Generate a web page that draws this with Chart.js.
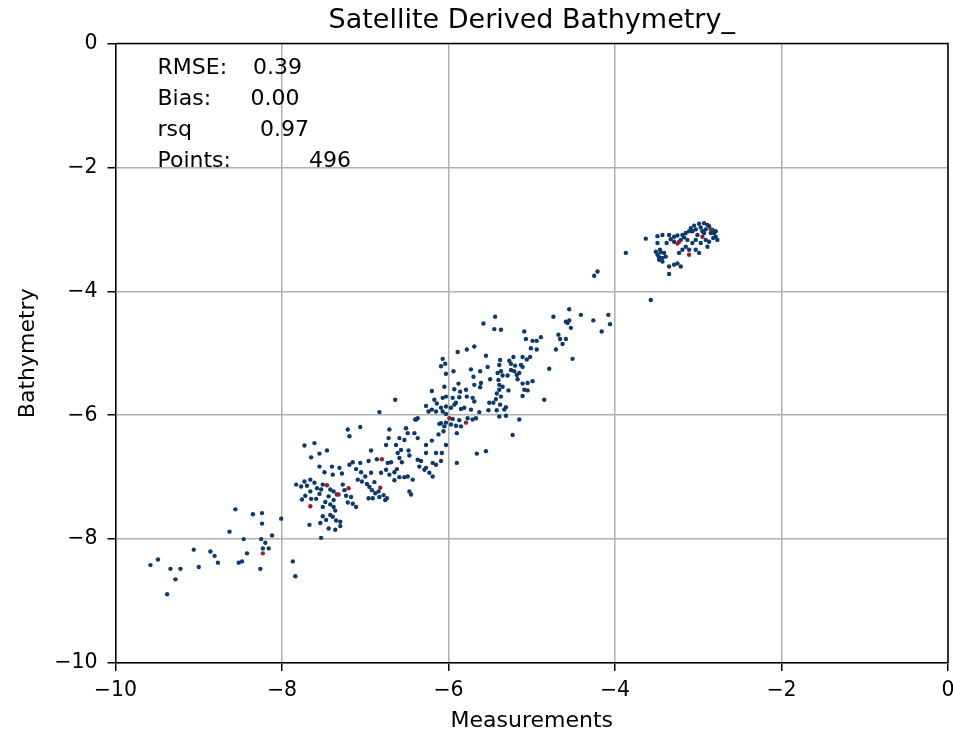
<!DOCTYPE html>
<html>
<head>
<meta charset="utf-8">
<title>Satellite Derived Bathymetry_</title>
<script src="https://cdn.jsdelivr.net/npm/chart.js@4.4.1/dist/chart.umd.min.js"></script>
<style>
  html, body { margin: 0; padding: 0; background: #fff; }
  #wrap { width: 953px; height: 734px; }
</style>
</head>
<body>
<div id="wrap"><canvas id="mycanvas" width="953" height="734"></canvas></div>
<script>
var deepPts = [
	[-8.56,-7.52],[-8.35,-7.60],[-8.24,-7.58],[-8.24,-7.75],[-8.01,-7.67],[-8.63,-7.88],
	[-8.46,-8.00],[-8.25,-8.00],[-8.20,-8.06],[-8.12,-7.94],[-8.23,-8.15],[-8.16,-8.15],
	[-8.42,-8.23],[-8.48,-8.36],[-8.52,-8.38],[-8.77,-8.38],[-8.86,-8.20],[-8.81,-8.27],
	[-9.06,-8.17],[-9.00,-8.45],[-9.22,-8.48],[-9.34,-8.48],[-9.28,-8.65],[-9.38,-8.89],
	[-9.49,-8.33],[-9.58,-8.42],[-8.26,-8.48],[-7.87,-8.36],[-7.84,-8.60]
];
var bandPts = [
	[-7.21,-6.23],[-7.06,-6.19],[-7.19,-6.34],[-6.71,-6.23],[-6.72,-6.37],[-6.51,-6.21],
	[-6.49,-6.29],[-6.41,-6.29],[-6.37,-6.37],[-6.40,-6.07],[-6.59,-6.37],[-6.53,-6.40],
	[-6.63,-6.48],[-6.75,-6.48],[-6.11,-6.14],[-6.06,-6.26],[-6.12,-6.31],[-6.03,-6.48],
	[-6.20,-6.41],[-6.27,-6.48],[-7.73,-6.49],[-7.61,-6.45],[-7.65,-6.68],[-7.55,-6.62],
	[-7.46,-6.57],[-6.93,-6.57],[-6.86,-6.71],[-6.96,-6.74],[-7.15,-6.76],[-7.19,-6.80],
	[-7.06,-6.77],[-6.73,-6.77],[-6.69,-6.76],[-6.61,-6.61],[-6.57,-6.56],[-6.59,-6.69],
	[-6.56,-6.76],[-6.48,-6.57],[-6.47,-6.65],[-6.37,-6.72],[-6.33,-6.74],[-6.27,-6.61],
	[-6.35,-6.83],[-6.15,-6.61],[-6.08,-6.61],[-6.09,-6.74],[-6.15,-6.80],[-6.19,-6.77],
	[-6.27,-6.85],[-6.29,-6.88],[-6.23,-6.93],[-6.19,-6.99],[-7.55,-6.83],[-7.49,-6.92],
	[-7.40,-6.83],[-7.39,-6.96],[-7.31,-6.85],[-7.28,-6.94],[-7.11,-6.87],[-7.05,-6.92],
	[-7.09,-7.04],[-7.04,-7.07],[-7.00,-6.99],[-6.93,-6.93],[-6.89,-7.08],[-6.81,-6.93],
	[-6.75,-6.88],[-6.71,-6.96],[-6.65,-6.92],[-6.62,-6.87],[-6.65,-7.05],[-6.59,-7.00],
	[-6.53,-7.00],[-6.49,-6.99],[-6.43,-7.04],[-7.73,-7.07],[-7.70,-7.14],[-7.66,-7.04],
	[-7.61,-7.09],[-7.58,-7.18],[-7.53,-7.20],[-7.51,-7.12],[-7.55,-7.27],[-7.66,-7.23],
	[-7.72,-7.30],[-7.76,-7.36],[-7.65,-7.35],[-7.59,-7.35],[-7.42,-7.20],[-7.38,-7.23],
	[-7.44,-7.31],[-7.38,-7.37],[-7.34,-7.28],[-7.27,-7.12],[-7.25,-7.21],[-7.23,-7.30],
	[-7.17,-7.32],[-7.21,-7.41],[-7.15,-7.43],[-7.11,-7.48],[-6.98,-7.11],[-6.95,-7.16],
	[-6.92,-7.21],[-6.88,-7.26],[-6.84,-7.23],[-6.78,-7.29],[-6.74,-7.34],[-6.83,-7.32],
	[-6.96,-7.34],[-6.91,-7.34],[-6.76,-7.37],[-6.47,-7.23],[-6.45,-7.28],[-7.51,-7.48],
	[-7.48,-7.40],[-7.42,-7.44],[-7.38,-7.48],[-7.36,-7.54],[-7.51,-7.63],[-7.47,-7.69],
	[-7.42,-7.61],[-7.39,-7.64],[-7.35,-7.70],[-7.30,-7.72],[-7.67,-7.77],[-7.54,-7.74],
	[-7.44,-7.83],[-7.36,-7.85],[-7.30,-7.79],[-7.53,-7.98],[-7.83,-7.12],[-7.77,-7.15]
];
var midPts = [
	[-6.20,-5.61],[-6.17,-5.75],[-6.14,-5.81],[-6.64,-5.75],[-6.83,-5.95],[-6.27,-5.85],
	[-6.24,-5.94],[-6.20,-5.91],[-6.15,-5.94],[-6.37,-6.05],[-6.39,-6.07],[-5.23,-6.32],
	[-5.66,-6.62],[-5.55,-6.58],[-5.90,-6.77],[-5.90,-6.29]
];
var upperPts = [
	[-4.55,-4.29],[-4.74,-4.41],[-4.41,-4.38],[-4.59,-4.49],[-4.57,-4.51],[-4.55,-4.47],
	[-4.53,-4.59],[-4.26,-4.47],[-4.08,-4.38],[-4.06,-4.53],[-4.16,-4.65],[-5.44,-4.41],
	[-5.58,-4.52],[-5.45,-4.61],[-5.37,-4.62],[-5.09,-4.65],[-5.07,-4.77],[-4.99,-4.80],
	[-4.94,-4.80],[-4.89,-4.74],[-4.68,-4.70],[-4.66,-4.77],[-4.59,-4.77],[-4.63,-4.85],
	[-4.71,-4.94],[-4.51,-5.09],[-5.01,-4.92],[-4.94,-4.94],[-5.89,-4.98],[-5.78,-4.94],
	[-5.69,-4.89],[-5.55,-5.04],[-5.11,-5.06],[-5.06,-5.10],[-5.02,-5.06],[-5.22,-5.06],
	[-5.27,-5.12],[-5.25,-5.17],[-5.20,-5.20],[-5.38,-5.11],[-5.39,-5.19],[-5.13,-5.19],
	[-5.11,-5.22],[-4.79,-5.25],[-5.53,-5.22],[-5.62,-5.29],[-5.73,-5.26],[-5.94,-5.29],
	[-6.03,-5.33],[-6.07,-5.09],[-6.04,-5.17],[-6.09,-5.21],[-5.37,-5.29],[-5.41,-5.32],
	[-5.35,-5.36],[-5.40,-5.43],[-5.29,-5.36],[-5.25,-5.27],[-5.21,-5.29],[-5.18,-5.35],
	[-5.15,-5.32],[-5.17,-5.42],[-5.70,-5.38],[-5.69,-5.51],[-5.61,-5.48],[-5.62,-5.55],
	[-5.50,-5.42],[-5.88,-5.49],[-5.93,-5.58],[-5.86,-5.62],[-5.79,-5.59],[-5.39,-5.51],
	[-5.35,-5.54],[-5.39,-5.59],[-5.28,-5.60],[-5.11,-5.49],[-5.05,-5.48],[-4.99,-5.45],
	[-5.09,-5.59],[-5.05,-5.60],[-5.11,-5.69],[-6.05,-5.54],[-6.03,-5.70],[-6.07,-5.72],
	[-5.95,-5.72],[-5.91,-5.80],[-5.87,-5.71],[-5.78,-5.70],[-5.71,-5.72],[-5.69,-5.78],
	[-5.51,-5.80],[-5.46,-5.80],[-5.42,-5.65],[-5.43,-5.74],[-5.37,-5.70],[-5.38,-5.83],
	[-5.31,-5.87],[-5.33,-5.91],[-4.85,-5.75],[-6.03,-5.86],[-5.97,-5.88],[-5.93,-5.83],
	[-5.85,-5.90],[-5.81,-5.88],[-5.73,-5.91],[-5.63,-5.95],[-5.52,-5.92],[-5.42,-5.92],
	[-5.39,-6.02],[-5.31,-6.01],[-6.09,-5.88],[-6.07,-5.94],[-6.03,-5.98],[-5.15,-6.07],
	[-5.95,-6.06],[-5.77,-6.05],[-5.87,-6.08],[-5.71,-6.07],[-5.67,-6.05],[-6.03,-6.12],
	[-5.97,-6.15],[-5.91,-6.17],[-5.85,-6.18],[-6.09,-6.13],[-6.05,-6.18]
];
var shallowPts = [
	[-4.25,-3.75],[-4.21,-3.68],[-3.87,-3.38],[-3.57,-4.14],[-3.63,-3.15],
	[-3.49,-3.11],[-3.43,-3.09],[-3.35,-3.09],[-3.38,-3.22],[-3.49,-3.22],[-3.46,-3.33],
	[-3.49,-3.41],[-3.47,-3.49],[-3.43,-3.46],[-3.41,-3.38],[-3.45,-3.37],[-3.39,-3.44],
	[-3.43,-3.52],[-3.51,-3.36],[-3.47,-3.45],[-3.33,-3.16],[-3.29,-3.12],[-3.25,-3.10],
	[-3.19,-3.09],[-3.15,-3.06],[-3.11,-3.03],[-3.09,-2.98],[-3.05,-2.94],[-2.99,-2.91],
	[-2.93,-2.90],[-2.89,-2.93],[-2.87,-2.95],[-2.83,-3.01],[-2.81,-3.06],[-2.79,-3.12],
	[-2.77,-3.17],[-2.91,-3.17],[-2.97,-3.22],[-2.89,-3.28],[-3.03,-3.17],[-3.07,-3.22],
	[-3.13,-3.17],[-3.15,-3.28],[-3.11,-3.33],[-3.03,-3.33],[-2.99,-3.38],[-3.19,-3.33],
	[-3.23,-3.38],[-3.25,-3.55],[-3.21,-3.60],[-3.29,-3.57],[-3.35,-3.60],[-3.35,-3.72],
	[-3.07,-3.03],[-3.03,-3.00],[-2.97,-2.97],[-2.91,-3.00],[-2.93,-3.06],[-3.01,-3.09],
	[-2.87,-3.20],[-2.82,-3.14],[-3.17,-3.13],[-3.21,-3.17],[-3.29,-3.20],[-2.85,-3.06],
	[-2.79,-3.03],[-2.95,-3.03]
];
var redPts = [
	[-8.23,-8.23],[-6.80,-6.71],[-7.46,-7.13],[-7.32,-7.28],[-7.20,-7.18],[-6.82,-7.17],
	[-7.66,-7.47],[-5.99,-6.05],[-5.79,-6.12],[-3.23,-3.20],[-3.25,-3.23],[-2.85,-3.00],
	[-2.95,-3.12],[-3.11,-3.41]
];

var xTicks = [-10, -8, -6, -4, -2, 0];
var yTicks = [-10, -8, -6, -4, -2, 0];
var statNames = ['RMSE:', 'Bias:', 'rsq', 'Points:'];
var statValues = ['0.39', '0.00', '0.97', '496'];
var chartTitle = 'Satellite Derived Bathymetry_';

var font = 'DejaVu Sans';

function toXY(list) {
	var out = [];
	for (var i in list) out.push({x: list[i][0], y: list[i][1]});
	return out;
}
var bluePts = toXY(deepPts.concat(bandPts, midPts, upperPts, shallowPts));

function minus(v) { return String(v).replace('-', '\u2212'); }

var extras = {
	id: 'extras',
	afterDatasetsDraw: function(chart) {
		var a = chart.chartArea, ctx = chart.ctx;
		ctx.save();
		ctx.strokeStyle = '#000';
		ctx.lineWidth = 1.5;
		ctx.beginPath();
		ctx.moveTo(a.left, a.top);
		ctx.lineTo(a.right, a.top);
		ctx.lineTo(a.right, a.bottom);
		ctx.stroke();

		ctx.fillStyle = '#000';
		ctx.textBaseline = 'alphabetic';
		ctx.textAlign = 'center';
		ctx.font = '27px "' + font + '"';
		ctx.fillText(chartTitle, (a.left + a.right) / 2, 27.5);

		ctx.textAlign = 'left';
		ctx.font = '22px "' + font + '"';
		var valX = [253, 250.5, 260, 309];
		for (var i = 0; i < statNames.length; i++) {
			var y = a.top + 30 + i * 31.1;
			ctx.fillText(statNames[i], a.left + 42, y);
			ctx.fillText(statValues[i], valX[i], y);
		}
		ctx.restore();
	}
};

var ctx = document.getElementById('mycanvas');
var scatter = new Chart(ctx, {
	type: 'scatter',
	data: {
		datasets: [
			{
				label: 'flagged',
				data: toXY(redPts),
				backgroundColor: '#9b1b30',
				pointRadius: 2.2,
				pointBorderWidth: 0
			},
			{
				label: 'points',
				data: bluePts,
				backgroundColor: '#0d3a6c',
				pointRadius: 2.2,
				pointBorderWidth: 0
			}
		]
	},
	options: {
		responsive: false,
		animation: false,
		devicePixelRatio: 1,
		events: [],
		layout: { padding: { top: 43.5, right: 5, left: 0, bottom: 0 } },
		plugins: {
			legend: { display: false },
			tooltip: { enabled: false },
			title: { display: false }
		},
		scales: {
			x: {
				type: 'linear', min: -10, max: 0,
				afterBuildTicks: function(s) { s.ticks = xTicks.map(function(v) { return {value: v}; }); },
				afterFit: function(s) { s.height = 71; s.paddingLeft = 0; s.paddingRight = 0; },
				ticks: { callback: minus, padding: 7, color: '#000', maxRotation: 0, autoSkip: false, font: { family: font, size: 20.5 } },
				grid: { color: '#b0b0b0', lineWidth: 1.5, tickColor: '#000', tickWidth: 1.5, tickLength: 8 },
				border: { color: '#000', width: 1.5 },
				title: { display: true, text: 'Measurements', color: '#000', font: { family: font, size: 22 }, padding: { top: 0, bottom: 0 } }
			},
			y: {
				type: 'linear', min: -10, max: 0,
				afterBuildTicks: function(s) { s.ticks = yTicks.map(function(v) { return {value: v}; }); },
				afterFit: function(s) { s.width = 115.5; s.paddingTop = 0; s.paddingBottom = 0; },
				ticks: { callback: minus, padding: 10, color: '#000', autoSkip: false, font: { family: font, size: 20.5 } },
				grid: { color: '#b0b0b0', lineWidth: 1.5, tickColor: '#000', tickWidth: 1.5, tickLength: 8 },
				border: { color: '#000', width: 1.5 },
				title: { display: true, text: 'Bathymetry', color: '#000', font: { family: font, size: 22 }, padding: { top: 15, bottom: 0 } }
			}
		}
	},
	plugins: [extras]
});
</script>
</body>
</html>
